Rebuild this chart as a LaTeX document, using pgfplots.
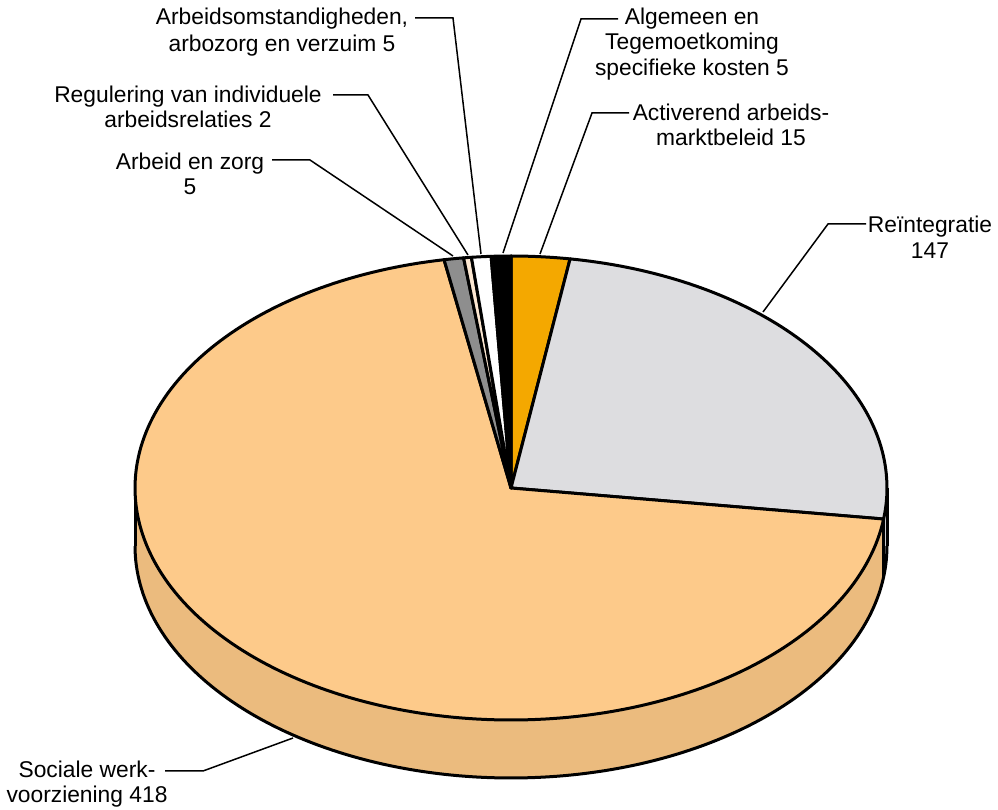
\documentclass[border=0pt]{standalone}
\usepackage{pgfplots}
\pgfplotsset{compat=1.18}
\usepackage{pgfplotstable}
\usepgfplotslibrary{fillbetween}
\usepackage{fontspec}
\setmainfont{Liberation Sans}
\definecolor{socTop}{HTML}{FDCA8A}
\definecolor{socWall}{HTML}{EBBB7E}
\definecolor{reiTop}{HTML}{DDDDE0}
\definecolor{reiWall}{HTML}{C9C9CD}
\definecolor{actTop}{HTML}{F4A800}
\definecolor{azTop}{HTML}{8E8E8E}
\definecolor{regTop}{HTML}{FDE8D2}
\pgfplotstableread{
name value
Activerend 15
Reintegratie 147
Sociale 418
ArbeidZorg 5
Regulering 2
Arbo 5
Algemeen 5
}\piedata
\begin{document}
\begin{tikzpicture}
\def\getv#1#2{\pgfplotstablegetelem{#1}{value}\of\piedata\pgfmathsetmacro#2{\pgfplotsretval}}
\getv{0}\vA \getv{1}\vB \getv{2}\vC \getv{3}\vD \getv{4}\vE \getv{5}\vF \getv{6}\vG
\pgfmathsetmacro\tot{\vA+\vB+\vC+\vD+\vE+\vF+\vG}
\pgfmathsetmacro\aA{0}
\pgfmathsetmacro\aB{\aA+360*(\vA/\tot)}
\pgfmathsetmacro\aC{\aB+360*(\vB/\tot)}
\pgfmathsetmacro\aD{\aC+360*(\vC/\tot)}
\pgfmathsetmacro\aE{\aD+360*(\vD/\tot)}
\pgfmathsetmacro\aF{\aE+360*(\vE/\tot)}
\pgfmathsetmacro\aG{\aF+360*(\vF/\tot)}
\pgfmathsetmacro\aH{360}
\def\cx{511}\def\cy{488}\def\ra{376}\def\rb{232}\def\dep{58}
\begin{axis}[width=499pt, height=405pt, scale only axis,
  xmin=0, xmax=998, ymin=0, ymax=810, y dir=reverse,
  hide axis, clip=false]
\path (rel axis cs:0,0) rectangle (rel axis cs:1,1);
% walls
\addplot[draw=none, name path=rt, domain=90:\aC, samples=20] ({\cx+\ra*sin(x)},{\cy-\rb*cos(x)});
\addplot[draw=none, name path=rb, domain=90:\aC, samples=20] ({\cx+\ra*sin(x)},{\cy+\dep-\rb*cos(x)});
\addplot[fill=reiWall, draw=none] fill between[of=rt and rb];
\addplot[draw=none, name path=st, domain=\aC:270, samples=150] ({\cx+\ra*sin(x)},{\cy-\rb*cos(x)});
\addplot[draw=none, name path=sb, domain=\aC:270, samples=150] ({\cx+\ra*sin(x)},{\cy+\dep-\rb*cos(x)});
\addplot[fill=socWall, draw=none] fill between[of=st and sb];
\addplot[draw=black, line width=1.5pt, domain=90:270, samples=150] ({\cx+\ra*sin(x)},{\cy+\dep-\rb*cos(x)});
\addplot[draw=black, line width=1.5pt] coordinates {(887,488) (887,546)};
\addplot[draw=black, line width=1.5pt] coordinates {(135,488) (135,546)};
\addplot[draw=black, line width=1.2pt, samples at={0,1}] ({\cx+\ra*sin(\aC)},{\cy-\rb*cos(\aC)+\dep*x});
% top face
\addplot[fill=actTop, draw=black, line width=1.5pt, line join=round, domain=\aA:\aB, samples=20] ({\cx+\ra*sin(x)},{\cy-\rb*cos(x)}) -- (axis cs:\cx,\cy) -- cycle;
\addplot[fill=reiTop, draw=black, line width=1.5pt, line join=round, domain=\aB:\aC, samples=80] ({\cx+\ra*sin(x)},{\cy-\rb*cos(x)}) -- (axis cs:\cx,\cy) -- cycle;
\addplot[fill=socTop, draw=black, line width=1.5pt, line join=round, domain=\aC:\aD, samples=200] ({\cx+\ra*sin(x)},{\cy-\rb*cos(x)}) -- (axis cs:\cx,\cy) -- cycle;
\addplot[fill=azTop, draw=black, line width=1.5pt, line join=round, domain=\aD:\aE, samples=8] ({\cx+\ra*sin(x)},{\cy-\rb*cos(x)}) -- (axis cs:\cx,\cy) -- cycle;
\addplot[fill=regTop, draw=black, line width=1.5pt, line join=round, domain=\aE:\aF, samples=6] ({\cx+\ra*sin(x)},{\cy-\rb*cos(x)}) -- (axis cs:\cx,\cy) -- cycle;
\addplot[fill=white, draw=black, line width=1.5pt, line join=round, domain=\aF:\aG, samples=8] ({\cx+\ra*sin(x)},{\cy-\rb*cos(x)}) -- (axis cs:\cx,\cy) -- cycle;
\addplot[fill=black, draw=black, line width=1.5pt, line join=round, domain=\aG:\aH, samples=8] ({\cx+\ra*sin(x)},{\cy-\rb*cos(x)}) -- (axis cs:\cx,\cy) -- cycle;
% leader lines
\addplot[draw=black, line width=0.75pt] coordinates {(415,18) (453,18) (481,254)};
\addplot[draw=black, line width=0.75pt] coordinates {(333,95) (368,95) (468,255)};
\addplot[draw=black, line width=0.75pt] coordinates {(272,160) (310,160) (453,256)};
\addplot[draw=black, line width=0.75pt] coordinates {(618,19) (581,19) (503,253)};
\addplot[draw=black, line width=0.75pt] coordinates {(629,113) (592,113) (540,254)};
\addplot[draw=black, line width=0.75pt] coordinates {(866,224) (828,224) (763,312)};
\addplot[draw=black, line width=0.75pt] coordinates {(165,771) (203,771) (293,738)};
% labels
\node[align=center, inner sep=0pt, font=\fontsize{11.4}{13.2}\selectfont] at (axis cs:282,32) {Arbeidsomstandigheden,\\arbozorg en verzuim 5};
\node[align=center, inner sep=0pt, font=\fontsize{11.4}{12.8}\selectfont] at (axis cs:188,107) {Regulering van individuele\\arbeidsrelaties 2};
\node[align=center, inner sep=0pt, font=\fontsize{11.4}{12.8}\selectfont] at (axis cs:190,174) {Arbeid en zorg\\5};
\node[align=center, inner sep=0pt, font=\fontsize{11.4}{12.8}\selectfont] at (axis cs:692,44) {Algemeen en\\Tegemoetkoming\\specifieke kosten 5};
\node[align=center, inner sep=0pt, font=\fontsize{11.4}{12.8}\selectfont] at (axis cs:731,125) {Activerend arbeids-\\marktbeleid 15};
\node[align=center, inner sep=0pt, font=\fontsize{11.4}{12.8}\selectfont] at (axis cs:930,237) {Reïntegratie\\147};
\node[align=center, inner sep=0pt, font=\fontsize{11.4}{12.8}\selectfont] at (axis cs:87,784) {Sociale werk-\\voorziening 418};
\end{axis}
\end{tikzpicture}
\end{document}
